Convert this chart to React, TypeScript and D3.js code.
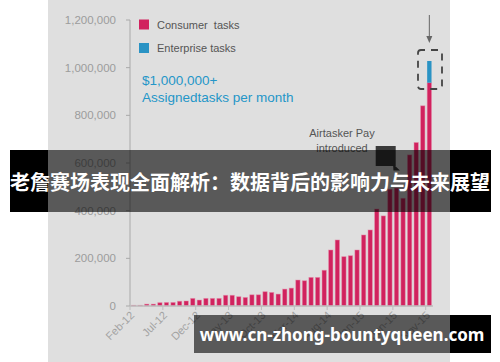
import React, { useEffect, useRef } from 'react';
import * as d3 from 'd3';

const W = 500;
const H = 362;

// one bar per month, Feb-12 .. Nov-15
const months: string[] = d3
  .timeMonth.range(new Date(2012, 1, 1), new Date(2015, 11, 1))
  .map(d3.timeFormat('%b-%y'));

const consumerTasks = [
  3000, 3000, 8000, 8000, 14000, 15000, 15000, 20000, 21000, 32000,
  25000, 32000, 32000, 32000, 45000, 45000, 39000, 36000, 47000, 47000,
  60000, 57000, 50000, 71000, 75000, 109000, 106000, 120000, 120000, 150000,
  235000, 277000, 207000, 211000, 235000, 298000, 319000, 407000, 378000, 490000,
  495000, 452000, 634000, 686000, 840000, 937000,
];

const enterpriseTasks = [
  0, 0, 0, 0, 0, 0, 0, 0, 0, 0,
  0, 0, 0, 0, 0, 0, 0, 0, 0, 0,
  0, 0, 0, 0, 0, 0, 0, 0, 0, 0,
  0, 0, 0, 0, 0, 0, 0, 0, 0, 0,
  0, 0, 0, 0, 0, 91000,
];

const yTicks = [0, 200000, 400000, 600000, 800000, 1000000, 1200000];
const xTickLabels = ['Feb-12', 'Jul-12', 'Dec-12', 'May-13', 'Oct-13', 'Mar-14', 'Aug-14', 'Jan-15', 'Jun-15', 'Nov-15'];

const legendItems = [
  { label: 'Consumer  tasks', color: '#d1225e' },
  { label: 'Enterprise tasks', color: '#2a93c4' },
];

const headline = '老詹赛场表现全面解析：数据背后的影响力与未来展望';
const siteUrl = 'www.cn-zhong-bountyqueen.com';

const App = () => {
  const ref = useRef<SVGSVGElement | null>(null);

  useEffect(() => {
    const el = ref.current;
    if (!el) return;
    const svg = d3.select(el);
    svg.selectAll('*').remove();

    const font = '"Liberation Sans", Arial, sans-serif';

    svg.append('rect').attr('width', W).attr('height', H).attr('fill', '#ffffff');
    // screenshot of the chart
    svg.append('rect').attr('x', 48).attr('y', 0).attr('width', 402).attr('height', H).attr('fill', '#dfdfdf');

    const x = d3.scaleBand<string>().domain(months).range([130, 432.3]).padding(0);
    const y = d3.scaleLinear().domain([0, 1200000]).range([306, 20]);
    const step = x.step();

    // y axis
    svg.append('line').attr('x1', 130).attr('x2', 130).attr('y1', y(1200000)).attr('y2', y(0))
      .attr('stroke', '#a9a9a9').attr('stroke-width', 1);
    const yt = svg.append('g');
    yt.selectAll('line').data(yTicks).enter().append('line')
      .attr('x1', 126).attr('x2', 130).attr('y1', (d) => y(d)).attr('y2', (d) => y(d))
      .attr('stroke', '#a9a9a9');
    yt.selectAll('text').data(yTicks).enter().append('text')
      .attr('x', 116).attr('y', (d) => y(d) + 4)
      .attr('text-anchor', 'end')
      .style('font-family', font).style('font-size', '11.5px').style('fill', '#9c9c9c')
      .text((d) => d3.format(',')(d));

    // bars
    const bars = svg.append('g');
    bars.selectAll('rect.c').data(months).enter().append('rect')
      .attr('class', 'c')
      .attr('x', (d) => (x(d) as number) + step * 0.22)
      .attr('width', step * 0.66)
      .attr('y', (d, i) => y(consumerTasks[i]))
      .attr('height', (d, i) => y(0) - y(consumerTasks[i]))
      .attr('fill', legendItems[0].color)
      .attr('stroke', 'rgba(230, 140, 170, 0.6)')
      .attr('stroke-width', 0.8);
    bars.selectAll('rect.e').data(months.filter((m, i) => enterpriseTasks[i] > 0)).enter().append('rect')
      .attr('class', 'e')
      .attr('x', (d) => (x(d) as number) + step * 0.22)
      .attr('width', step * 0.66)
      .attr('y', (d) => {
        const i = months.indexOf(d);
        return y(consumerTasks[i] + enterpriseTasks[i]);
      })
      .attr('height', (d) => {
        const i = months.indexOf(d);
        return y(consumerTasks[i]) - y(consumerTasks[i] + enterpriseTasks[i]);
      })
      .attr('fill', legendItems[1].color);

    // x axis
    svg.append('line').attr('x1', 130).attr('x2', 433).attr('y1', 306).attr('y2', 306)
      .attr('stroke', '#bdbdbd').attr('stroke-width', 1.5);
    const xt = svg.append('g');
    xt.selectAll('line').data(xTickLabels).enter().append('line')
      .attr('x1', (d) => x(d) as number).attr('x2', (d) => x(d) as number)
      .attr('y1', 306).attr('y2', 310)
      .attr('stroke', '#bdbdbd');
    xt.selectAll('text').data(xTickLabels).enter().append('text')
      .attr('transform', (d) => `translate(${(x(d) as number) + 5},316) rotate(-45)`)
      .attr('text-anchor', 'end')
      .style('font-family', font).style('font-size', '11px').style('fill', '#a3a3a3')
      .text((d) => d);

    // legend
    const lg = svg.append('g');
    legendItems.forEach((item, i) => {
      lg.append('rect').attr('x', 139).attr('y', 19.5 + i * 23.5).attr('width', 10).attr('height', 10).attr('fill', item.color);
      lg.append('text').attr('x', 157).attr('y', 28.5 + i * 23)
        .style('font-family', font).style('font-size', '11px').style('fill', '#555')
        .style('white-space', 'pre')
        .text(item.label);
    });

    svg.append('text').attr('x', 142).attr('y', 85)
      .style('font-family', font).style('font-size', '13.5px').style('fill', '#2496c8')
      .text('$1,000,000+');
    svg.append('text').attr('x', 142).attr('y', 101.5)
      .style('font-family', font).style('font-size', '13.5px').style('fill', '#2496c8')
      .text('Assignedtasks per month');

    // annotations
    const ann = svg.append('g').style('font-family', font).style('font-size', '11px').style('fill', '#555');
    ann.append('text').attr('x', 342).attr('y', 137).attr('text-anchor', 'middle').text('Airtasker Pay');
    ann.append('text').attr('x', 342).attr('y', 152).attr('text-anchor', 'middle').text('introduced');
    svg.append('rect').attr('x', 375.7).attr('y', 146).attr('width', 20).attr('height', 20).attr('fill', '#3a3a3a');
    svg.append('path').attr('d', 'M393,164 L400,170.5 L393.5,170.5 Z').attr('fill', '#3a3a3a');

    const last = months[months.length - 1];
    const lx = (x(last) as number) + step * 0.55;
    svg.append('rect').attr('x', 418).attr('y', 50).attr('width', 24).attr('height', 39).attr('rx', 3)
      .attr('fill', 'none').attr('stroke', '#454545').attr('stroke-width', 1.8)
      .attr('stroke-dasharray', '7 6').attr('stroke-dashoffset', 3);
    svg.append('line').attr('x1', lx).attr('x2', lx).attr('y1', 15).attr('y2', 38)
      .attr('stroke', '#666').attr('stroke-width', 1);
    svg.append('path').attr('d', `M${lx - 3},36 L${lx + 3},36 L${lx},43 Z`).attr('fill', '#666');

    // headline banner
    svg.append('rect').attr('x', 10).attr('y', 150).attr('width', 38).attr('height', 62).attr('fill', '#000');
    svg.append('rect').attr('x', 450).attr('y', 150).attr('width', 41).attr('height', 62).attr('fill', '#000');
    svg.append('rect').attr('x', 48).attr('y', 150).attr('width', 402).attr('height', 62).attr('fill', 'rgba(0,0,0,0.6)');
    svg.append('text').attr('x', 250).attr('y', 190).attr('text-anchor', 'middle')
      .style('font-family', '"Noto Sans CJK SC", sans-serif').style('font-size', '20px').style('font-weight', 'bold')
      .style('fill', '#fff')
      .text(headline);

    // url banner
    svg.append('rect').attr('x', 450).attr('y', 315).attr('width', 41).attr('height', 38).attr('fill', '#000');
    svg.append('rect').attr('x', 194).attr('y', 315).attr('width', 256).attr('height', 38).attr('fill', 'rgba(0,0,0,0.6)');
    svg.append('text').attr('x', 342).attr('y', 341).attr('text-anchor', 'middle')
      .style('font-family', '"Noto Sans", sans-serif').style('font-size', '17px').style('font-weight', 'bold')
      .style('fill', '#fff')
      .text(siteUrl);
  }, []);

  return (
    <svg
      ref={ref}
      width={W}
      height={H}
      style={{ position: 'fixed', left: 0, top: 0, display: 'block' }}
    />
  );
};

export default App;
